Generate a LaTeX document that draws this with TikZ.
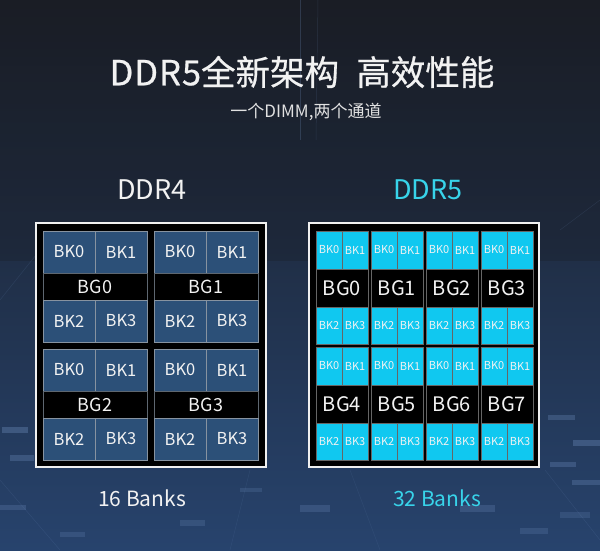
\documentclass[tikz,border=0pt]{standalone}
\usepackage{fontspec}
\setmainfont{Noto Sans CJK SC}
\newfontfamily\headfont{Noto Sans CJK SC}[FakeBold=0.6]
\definecolor{bgtop}{HTML}{1A1D25}
\definecolor{bgmid}{HTML}{1C2535}
\definecolor{bgbot}{HTML}{27436D}
\definecolor{bkblue}{HTML}{2C5078}
\definecolor{bkedge}{HTML}{8793A0}
\definecolor{cyanc}{HTML}{10C8F0}
\definecolor{cyantext}{HTML}{38D4EA}
\definecolor{offwhite}{HTML}{F2F2F2}
\definecolor{streak}{HTML}{6F8FBF}
\tikzset{
  frame/.style={draw=white!88!gray, line width=1.3pt, fill=black},
  lcell/.style={draw=bkedge, line width=0.7pt, fill=bkblue, text=offwhite, inner sep=0pt,
    minimum width=52pt, minimum height=42pt, font=\fontsize{16.5}{16.5}\selectfont},
  lbar/.style={draw=bkedge!70!black, line width=0.7pt, fill=black, text=offwhite, inner sep=0pt,
    minimum width=104pt, minimum height=27pt, font=\fontsize{18}{18}\selectfont},
  rcell/.style={draw=black!60, line width=0.6pt, fill=cyanc, text=offwhite, inner sep=0pt,
    minimum width=26pt, minimum height=38pt, font=\fontsize{11}{11}\selectfont},
  rbar/.style={draw=black!60, line width=0.6pt, fill=black, text=offwhite, inner sep=0pt,
    minimum width=52pt, minimum height=38pt, font=\fontsize{20}{20}\selectfont},
  heading/.style={text=offwhite, inner sep=0pt, font=\headfont\fontsize{34.5}{34.5}\selectfont},
  subheading/.style={text=offwhite!85!gray, inner sep=0pt, font=\fontsize{17}{17}\selectfont},
  label4/.style={text=offwhite, inner sep=0pt, font=\fontsize{27}{27}\selectfont},
  label5/.style={text=cyantext, inner sep=0pt, font=\fontsize{27}{27}\selectfont},
  banks4/.style={text=offwhite, inner sep=0pt, font=\fontsize{21}{21}\selectfont},
  banks5/.style={text=cyantext, inner sep=0pt, font=\fontsize{21}{21}\selectfont},
}
\begin{document}
\begin{tikzpicture}[x=1pt,y=-1pt]
\useasboundingbox (0,0) rectangle (600,550);
% background
\shade[top color=bgtop, middle color=bgmid, bottom color=bgbot] (0,0) rectangle (600,550);
\shade[top color=bgtop, bottom color=bgmid, opacity=0.6] (0,0) rectangle (600,260);
% faint streaks and city lights
\begin{scope}[draw=streak, line width=0.5pt]
  \draw[opacity=0.25] (300,0) -- (300,140);
  \draw[opacity=0.18] (318,0) -- (316,140);
  \draw[opacity=0.15] (0,300) -- (40,250);
  \draw[opacity=0.15] (560,230) -- (600,200);
  \draw[opacity=0.15] (545,470) -- (600,540);
  \draw[opacity=0.15] (0,480) -- (60,550);
  \draw[opacity=0.12] (250,470) -- (230,550);
  \draw[opacity=0.12] (350,470) -- (380,550);
\end{scope}
\begin{scope}[fill=streak]
  \fill[opacity=0.35] (2,427) rectangle (28,433);
  \fill[opacity=0.30] (10,455) rectangle (34,461);
  \fill[opacity=0.25] (0,505) rectangle (26,510);
  \fill[opacity=0.30] (548,415) rectangle (575,420);
  \fill[opacity=0.35] (573,440) rectangle (600,446);
  \fill[opacity=0.30] (550,462) rectangle (576,467);
  \fill[opacity=0.30] (572,480) rectangle (600,485);
  \fill[opacity=0.25] (460,505) rectangle (495,512);
  \fill[opacity=0.25] (300,505) rectangle (330,512);
  \fill[opacity=0.22] (180,520) rectangle (205,526);
  \fill[opacity=0.22] (60,532) rectangle (85,537);
  \fill[opacity=0.22] (520,528) rectangle (548,534);
  \fill[opacity=0.20] (240,488) rectangle (262,492);
  \fill[opacity=0.20] (560,512) rectangle (590,518);
\end{scope}
% titles
\node[heading] (title) at (302,72) {D\hspace{1pt}D\hspace{1pt}R\hspace{1pt}5全新架构\hspace{0.5em}高效性能};
\node[subheading] (subtitle) at (306,112) {一个DIMM,两个通道};
\node[label4] (ddr4) at (152,190) {DDR4};
\node[label5] (ddr5) at (428,190) {DDR5};
% frames
\node[frame, minimum width=230pt, minimum height=244pt, inner sep=0pt] (lframe) at (151,345) {};
\node[frame, minimum width=230pt, minimum height=244pt, inner sep=0pt] (rframe) at (424,345) {};
% left: DDR4 bank groups
\foreach \gx/\gy/\g in {43/231/0, 154/231/1, 43/349/2, 154/349/3} {
  \node[lcell] (L\g k0) at (\gx+26,\gy+21) {BK0};
  \node[lcell] (L\g k1) at (\gx+78,\gy+21) {BK1};
  \node[lbar]  (L\g g)  at (\gx+52,\gy+55.5) {BG\g};
  \node[lcell] (L\g k2) at (\gx+26,\gy+90) {BK2};
  \node[lcell] (L\g k3) at (\gx+78,\gy+90) {BK3};
}
% right: DDR5 bank groups
\foreach \i in {0,1,2,3} {
  \foreach \r in {0,1} {
    \pgfmathtruncatemacro{\g}{\i+4*\r}
    \pgfmathsetmacro{\gx}{316+55*\i}
    \pgfmathsetmacro{\gy}{231+116*\r}
    \node[rcell] (R\g k0) at (\gx+13,\gy+19) {BK0};
    \node[rcell] (R\g k1) at (\gx+39,\gy+19) {BK1};
    \node[rbar]  (R\g g)  at (\gx+26,\gy+57) {BG\g};
    \node[rcell, minimum height=37pt] (R\g k2) at (\gx+13,\gy+94.5) {BK2};
    \node[rcell, minimum height=37pt] (R\g k3) at (\gx+39,\gy+94.5) {BK3};
  }
}
% captions
\node[banks4] (b16) at (142,498) {16 Banks};
\node[banks5] (b32) at (437,498) {32 Banks};
\end{tikzpicture}
\end{document}
